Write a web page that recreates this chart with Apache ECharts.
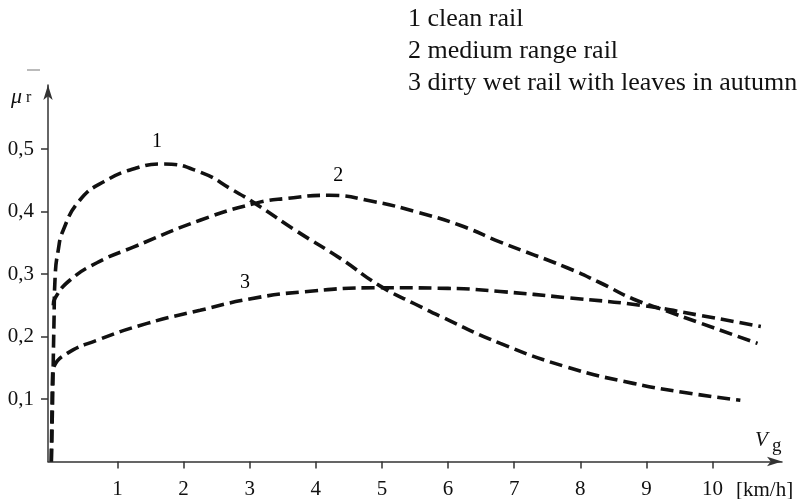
<!DOCTYPE html>
<html>
<head>
<meta charset="utf-8">
<script src="https://cdn.jsdelivr.net/npm/echarts@6/dist/echarts.min.js"></script>
<style>
html,body{margin:0;padding:0;background:#fff;}
#chart{width:806px;height:499px;}
</style>
</head>
<body>
<div id="chart"></div>
<script>
// ---- data ----
var xTicks = [1, 2, 3, 4, 5, 6, 7, 8, 9, 10];
var yTicks = [0.1, 0.2, 0.3, 0.4, 0.5];
var legendLines = ['1 clean rail', '2 medium range rail', '3 dirty wet rail with leaves in autumn'];
var curveNames = ['1', '2', '3'];
var cleanRail = [[0,0],[0.02,0.1],[0.04,0.22],[0.06,0.3],[0.1,0.335],[0.18,0.37],[0.43,0.418],[0.8,0.448],[1.3,0.47],[1.69,0.476],[2.25,0.463],[2.75,0.434],[3.08,0.413],[3.72,0.368],[4.37,0.325],[4.97,0.281],[5.5,0.252],[5.93,0.23],[6.79,0.189],[7.8,0.151],[8.8,0.125],[9.6,0.11],[10.42,0.098]];
var mediumRail = [[0.03,0.25],[0.06,0.262],[0.28,0.29],[0.69,0.318],[1.24,0.343],[2.25,0.386],[3.08,0.413],[3.57,0.421],[4.2,0.426],[4.87,0.416],[5.53,0.399],[6.18,0.378],[6.79,0.351],[7.8,0.31],[8.3,0.286],[8.8,0.26],[9.3,0.241],[9.8,0.222],[10.68,0.189]];
var dirtyRail = [[0,0],[0.01,0.08],[0.02,0.14],[0.04,0.152],[0.24,0.173],[0.69,0.194],[1.45,0.221],[2.25,0.242],[3.0,0.26],[3.76,0.271],[4.97,0.278],[6.0,0.277],[6.79,0.272],[7.8,0.262],[8.91,0.25],[9.8,0.234],[10.73,0.216]];
var curveLabelPos = [[1.6,0.511],[4.34,0.458],[2.93,0.286]];

var serif = '"Liberation Serif","DejaVu Serif",serif';
var axisColor = '#333';
var lineStyleDash = {color:'#111', width:3.6, type:[13,6], cap:'butt'};

var chart = echarts.init(document.getElementById('chart'), null, {renderer:'canvas'});

function curve(data){
  return {type:'line', data:data, showSymbol:false, symbol:'none', smooth:0.5,
          lineStyle:lineStyleDash, silent:true, animation:false, z:3};
}

var option = {
  backgroundColor:'#fff',
  animation:false,
  grid:{left:48, right:24, top:85, bottom:37.5, containLabel:false, outerBoundsMode:'none'},
  xAxis:{
    type:'value', min:-0.05, max:11.05,
    splitLine:{show:false},
    axisLine:{show:true, onZero:false, symbol:['none','arrow'], symbolSize:[7,15],
      lineStyle:{color:axisColor, width:1.5}},
    axisTick:{show:true, customValues:xTicks, length:7, lineStyle:{color:axisColor, width:1.5}},
    axisLabel:{show:true, customValues:xTicks, fontFamily:serif, fontSize:21, color:'#111', margin:17}
  },
  yAxis:{
    type:'value', min:0, max:0.6024,
    splitLine:{show:false},
    axisLine:{show:true, onZero:false, symbol:['none','arrow'], symbolSize:[7,15],
      lineStyle:{color:axisColor, width:1.5}},
    axisTick:{show:true, customValues:yTicks, length:7, lineStyle:{color:axisColor, width:1.5}},
    axisLabel:{show:true, customValues:yTicks, fontFamily:serif, fontSize:21, color:'#111', margin:14,
      formatter:function(v){return v.toFixed(1).replace('.', ',');}}
  },
  series:[
    curve(cleanRail),
    curve(mediumRail),
    curve(dirtyRail),
    {type:'scatter', symbolSize:1, silent:true, animation:false,
     itemStyle:{opacity:0},
     data:curveLabelPos.map(function(p,i){return {value:p, name:curveNames[i]};}),
     label:{show:true, position:'inside', formatter:'{b}', fontFamily:serif, fontSize:20, color:'#000', opacity:1}}
  ],
  graphic:[
    {type:'text', left:408, top:6, style:{text:legendLines[0], font:'26px ' + serif, fill:'#111'}},
    {type:'text', left:408, top:38, style:{text:legendLines[1], font:'26px ' + serif, fill:'#111'}},
    {type:'text', left:408, top:70, style:{text:legendLines[2], font:'26px ' + serif, fill:'#111'}},
    {type:'line', shape:{x1:27, y1:70, x2:40, y2:70}, style:{stroke:'#bbb', lineWidth:2}},
    {type:'text', x:11, y:86, style:{text:'{m|μ}{s| r}', rich:{
        m:{fontFamily:serif, fontStyle:'italic', fontSize:22, fill:'#111'},
        s:{fontFamily:serif, fontSize:16, fill:'#111', padding:[0,0,-2,0]}}}},
    {type:'text', x:755, y:430, style:{text:'V', font:'italic 21px ' + serif, fill:'#111'}},
    {type:'text', x:772, y:437, style:{text:'g', font:'19px ' + serif, fill:'#111'}},
    {type:'text', x:736, y:480, style:{text:'[km/h]', font:'21px ' + serif, fill:'#111'}}
  ]
};
chart.setOption(option);
</script>
</body>
</html>
